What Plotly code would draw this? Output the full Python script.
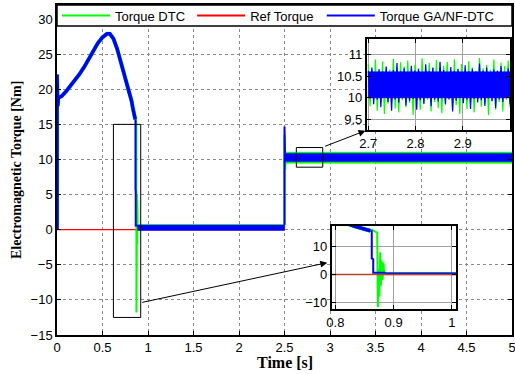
import numpy as np
import plotly.graph_objects as go

# ---------------- data ----------------
# start-up torque curve (both controllers nearly coincide)
t_start = [0, 0, 0.008, 0.015, 0.05, 0.1, 0.15, 0.2, 0.25, 0.3, 0.35, 0.4, 0.45,
           0.5, 0.55, 0.58, 0.62, 0.66, 0.7, 0.74, 0.78, 0.8, 0.82, 0.832, 0.845, 0.86]
v_start = [0, 22.1, 17.6, 18.8, 19.0, 19.7, 20.5, 21.3, 22.2, 23.2, 24.4, 25.6, 26.6,
           27.4, 27.9, 27.9, 27.2, 25.8, 24.0, 22.0, 20.0, 19.2, 18.3, 17.4, 16.5, 15.7]

# transient around t = 0.87 s
t_ga_tr = [0.86, 0.8625, 0.8625, 0.865, 0.865, 0.886]
v_ga_tr = [15.7, 15.6, 5.7, 5.5, 0.6, 0.6]
t_dtc_tr = [0.86, 0.8632, 0.8718, 0.873, 0.8745, 0.8755, 0.877, 0.878, 0.8795,
            0.881, 0.8825, 0.884, 0.886]
v_dtc_tr = [15.7, 16.0, 15.0, -11.8, 2.0, -8.0, 8.0, -4.0, 5.0, -2.0, 4.2, 0.0, 0.9]

# no-load ripple band 0.886 .. 2.5 s  (lower / upper envelope)
t_mid = [0.886, 2.5]
dtc_mid_lo, dtc_mid_hi = 0.0, 0.75
ga_mid_lo, ga_mid_hi = -0.1, 0.65

# load step at 2.5 s
t_ga_step = [2.5, 2.5, 2.503, 2.506]
v_ga_step = [0.65, 14.7, 9.0, 10.3]
t_dtc_step = [2.5, 2.5, 2.508, 2.512]
v_dtc_step = [0.75, 13.5, 8.6, 10.3]

# loaded ripple band 2.505 .. 5 s (lower / upper envelope)
t_ss = [2.505, 5.0]
dtc_ss_lo, dtc_ss_hi = 9.45, 11.05
ga_ss_lo, ga_ss_hi = 9.7, 10.85

# zoomed ripple band core 2.7 .. 3.0 s
t_zoom_band = [2.7, 3.0]
ga_zoom_lo, ga_zoom_hi = 10.0, 10.6

# reference torque
t_ref = [0, 2.5, 2.5, 5]
v_ref = [0, 0, 10, 10]

# zoomed ripple 2.7 .. 3.0 s
ga_zoom = [10.62, 9.98, 10.70, 9.85, 10.58, 9.95, 10.66, 9.78, 10.60, 10.00, 10.72, 9.90,
           10.57, 9.70, 10.64, 9.96, 10.80, 9.88, 10.61, 9.99, 10.68, 9.82, 10.59, 9.93,
           10.74, 9.97, 10.63, 9.72, 10.66, 9.94, 10.58, 9.86, 10.77, 9.99, 10.62, 9.80,
           10.69, 9.95, 10.60, 9.91, 10.83, 9.98, 10.64, 9.84, 10.59, 9.96, 10.71, 9.68,
           10.62, 9.93, 10.66, 9.99, 10.58, 9.87, 10.75, 9.95, 10.61, 9.74, 10.67, 9.97,
           10.60, 9.89, 10.79, 9.94, 10.63, 9.81, 10.70, 9.98, 10.58, 9.92, 10.65, 9.76,
           10.62, 9.96, 10.73, 9.90, 10.59, 9.99, 10.68, 9.85]
dtc_zoom = [10.78, 9.80, 10.66, 9.95, 10.88, 9.70, 10.62, 9.90, 10.84, 9.62, 10.70, 9.86,
            10.65, 9.92, 10.90, 9.75, 10.60, 9.66, 10.82, 9.94, 10.72, 9.78, 10.86, 9.88,
            10.64, 9.60, 10.76, 9.93, 10.68, 9.72, 10.91, 9.85, 10.63, 9.95, 10.80, 9.68,
            10.70, 9.90, 10.87, 9.76, 10.66, 9.64, 10.74, 9.89, 10.83, 9.97, 10.61, 9.70,
            10.89, 9.83, 10.67, 9.62, 10.78, 9.91, 10.64, 9.74, 10.85, 9.87, 10.70, 9.66,
            10.62, 9.94, 10.92, 9.79, 10.68, 9.86, 10.76, 9.60, 10.65, 9.92, 10.88, 9.72,
            10.63, 9.90, 10.81, 9.68, 10.73, 9.95, 10.86, 9.78]
t_zoom = np.linspace(2.7, 3.0, len(ga_zoom))

x_ticks = [0, 0.5, 1, 1.5, 2, 2.5, 3, 3.5, 4, 4.5, 5]
y_ticks = [-15, -10, -5, 0, 5, 10, 15, 20, 25, 30]

GREEN, BLUE, RED = '#00ff00', '#0000ff', '#ff0000'

fig = go.Figure()


def line(x, y, color, width, xa='x', ya='y'):
    fig.add_trace(go.Scatter(x=x, y=y, mode='lines', line=dict(color=color, width=width),
                             xaxis=xa, yaxis=ya, showlegend=False, hoverinfo='skip'))


def band(tt, lo, hi, color, xa='x', ya='y'):
    fig.add_trace(go.Scatter(x=[tt[0], tt[1], tt[1], tt[0], tt[0]], y=[lo, lo, hi, hi, lo],
                             mode='lines', fill='toself', fillcolor=color,
                             line=dict(color=color, width=0.5), xaxis=xa, yaxis=ya,
                             showlegend=False, hoverinfo='skip'))


for xa, ya in [('x', 'y'), ('x3', 'y3')]:
    if xa == 'x':
        line(t_ref, v_ref, RED, 1.2, xa, ya)
    # DTC (green)
    line(t_start, v_start, GREEN, 4, xa, ya)
    line(t_dtc_tr, v_dtc_tr, GREEN, 2, xa, ya)
    band(t_mid, dtc_mid_lo, dtc_mid_hi, GREEN, xa, ya)
    # GA/NF-DTC (blue)
    line(t_start, v_start, BLUE, 3.5, xa, ya)
    line(t_ga_tr, v_ga_tr, BLUE, 2, xa, ya)
    band(t_mid, ga_mid_lo, ga_mid_hi, BLUE, xa, ya)
    if xa == 'x3':
        line(t_ref, v_ref, '#b8452a', 1.5, xa, ya)

line(t_dtc_step, v_dtc_step, GREEN, 2)
band(t_ss, dtc_ss_lo, dtc_ss_hi, GREEN)
line(t_ga_step, v_ga_step, BLUE, 2)
band(t_ss, ga_ss_lo, ga_ss_hi, BLUE)

# inset 1 ripple
line(t_zoom, [10] * len(t_zoom), RED, 1, 'x2', 'y2')
line(t_zoom, dtc_zoom, GREEN, 1.2, 'x2', 'y2')
band(t_zoom_band, ga_zoom_lo, ga_zoom_hi, BLUE, 'x2', 'y2')
line(t_zoom, ga_zoom, BLUE, 1.2, 'x2', 'y2')

# legend entries
for name, color, lg in [('Torque DTC', GREEN, 'legend'), ('Ref Torque', RED, 'legend2'),
                        ('Torque GA/NF-DTC', BLUE, 'legend3')]:
    fig.add_trace(go.Scatter(x=[None], y=[None], mode='lines', name=name,
                             line=dict(color=color, width=2), legend=lg, showlegend=True))

tickfont = dict(family='Liberation Sans, Arial', size=13, color='black')
ax = dict(showline=True, linecolor='black', linewidth=1.5, mirror='ticks', ticks='inside',
          ticklen=4, tickcolor='black', tickwidth=1, showgrid=True, gridcolor='#8a8a8a',
          griddash='dot', gridwidth=1, zeroline=False, tickfont=tickfont, automargin=False,
          ticklabeloverflow='allow')

leg = dict(y=0.968, yanchor='middle', xanchor='left', bgcolor='rgba(0,0,0,0)', borderwidth=0,
           font=dict(family='Liberation Sans, Arial', size=13, color='black'), itemwidth=48)

fig.update_layout(
    width=515, height=374, margin=dict(l=57, r=3, t=5, b=39, autoexpand=False),
    paper_bgcolor='white', plot_bgcolor='white',
    xaxis=dict(ax, domain=[0, 1], range=[0, 5], tickvals=x_ticks),
    yaxis=dict(ax, domain=[0, 1], range=[-15, 32], tickvals=y_ticks),
    xaxis2=dict(ax, domain=[0.681, 0.9956], range=[2.697, 3.0], tickvals=[2.7, 2.8, 2.9],
                anchor='y2', linewidth=2, griddash='solid', gridcolor='#a0a0a0'),
    yaxis2=dict(ax, domain=[0.621, 0.896], range=[9.25, 11.35], tickvals=[9.5, 10, 10.5, 11],
                anchor='x2', linewidth=2, griddash='solid', gridcolor='#a0a0a0'),
    xaxis3=dict(ax, domain=[0.604, 0.877], range=[0.794, 1.007], tickvals=[0.8, 0.9, 1],
                anchor='y3', linewidth=2, griddash='solid', gridcolor='#a0a0a0'),
    yaxis3=dict(ax, domain=[0.078, 0.331], range=[-12.5, 17.5], tickvals=[-10, 0, 10],
                anchor='x3', linewidth=2, griddash='solid', gridcolor='#a0a0a0'),
    legend=dict(leg, x=0.0),
    legend2=dict(leg, x=0.297),
    legend3=dict(leg, x=0.582),
    shapes=[
        dict(type='rect', xref='paper', yref='y', x0=0, x1=1, y0=29, y1=32,
             fillcolor='white', line=dict(color='black', width=1.5), layer='above'),
        dict(type='rect', xref='x', yref='y', x0=0.62, x1=0.92, y0=-12.5, y1=15,
             line=dict(color='black', width=1), layer='above'),
        dict(type='rect', xref='x', yref='y', x0=2.63, x1=2.92, y0=8.9, y1=11.7,
             line=dict(color='black', width=1), layer='above'),
    ],
    annotations=[
        dict(xref='x', yref='y', axref='x', ayref='y', x=2.97, y=-4.7, ax=0.92, ay=-10.4,
             text='', showarrow=True, arrowhead=2, arrowsize=1.4, arrowwidth=1,
             arrowcolor='black'),
        dict(xref='x', yref='y', axref='x', ayref='y', x=3.39, y=14.1, ax=2.93, ay=11.8,
             text='', showarrow=True, arrowhead=2, arrowsize=1.4, arrowwidth=1,
             arrowcolor='black'),
        dict(xref='paper', yref='paper', x=0.5, y=-0.082, xanchor='center', yanchor='middle',
             text='Time [s]', showarrow=False,
             font=dict(family='Liberation Serif, Times New Roman', size=16, color='black',
                       weight='bold')),
        dict(xref='paper', yref='paper', x=-0.090, y=0.5, xanchor='center', yanchor='middle',
             text='Electromagnetic Torque [Nm]', showarrow=False, textangle=-90,
             font=dict(family='Liberation Serif, Times New Roman', size=14, color='black',
                       weight='bold')),
    ],
)

fig.write_html('out.html', config={'displayModeBar': False},
               post_script="document.body.style.margin='0';")
